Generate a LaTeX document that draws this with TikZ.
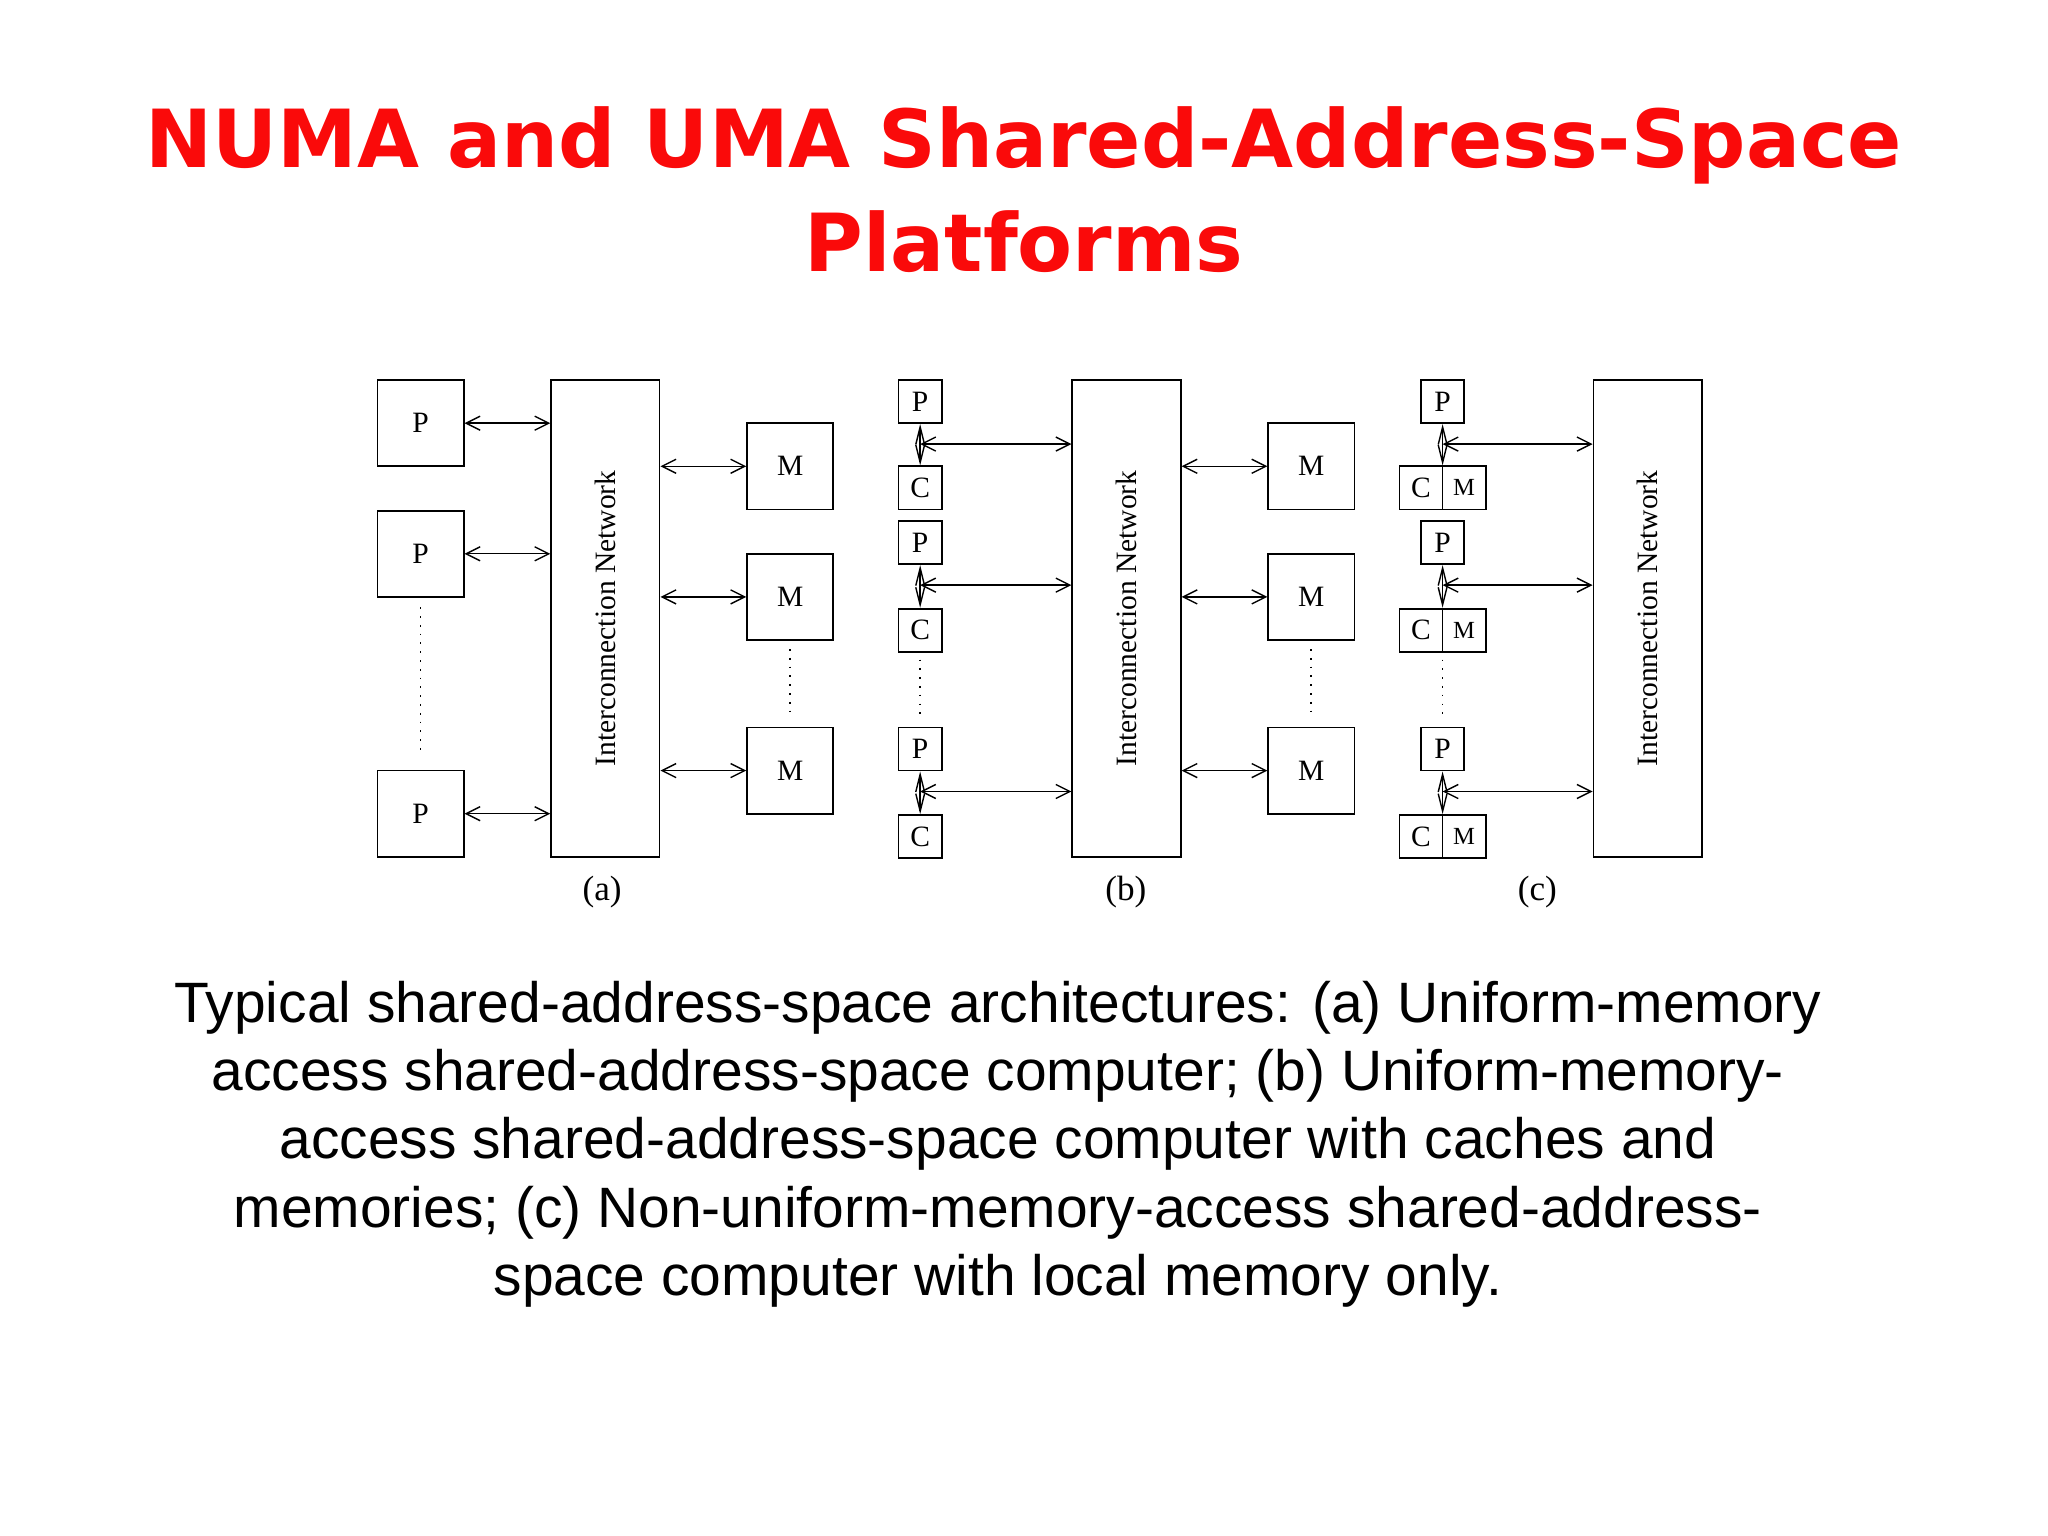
\documentclass[tikz,border=0pt]{standalone}
\usepackage{fontspec}
\setmainfont{Liberation Serif}
\newfontfamily\titlefont{DejaVu Sans}
\newfontfamily\capfont{Liberation Sans}
\usetikzlibrary{arrows.meta}
\definecolor{tred}{RGB}{250,10,10}
\begin{document}
\begin{tikzpicture}[x=0.013061cm,y=-0.013061cm,
  box/.style={draw,line width=0.5pt,inner sep=0pt,font=\fontsize{8.4}{10}\selectfont},
  big/.style={box,minimum width=0.862cm,minimum height=0.862cm},
  sm/.style={box,minimum width=0.431cm,minimum height=0.431cm},
  net/.style={box,minimum width=1.084cm,minimum height=4.767cm},
  arr/.style={line width=0.4pt,{Straight Barb[length=4pt,width=4pt]}-{Straight Barb[length=4pt,width=4pt]}},
  varr/.style={line width=0.4pt,{Straight Barb[length=5pt,width=2.5pt]}-{Straight Barb[length=5pt,width=2.5pt]}},
  dots/.style={line width=0.5pt,dotted},
  lab/.style={font=\fontsize{10}{12}\selectfont}]
\useasboundingbox (0,0) rectangle (1568,1176);
\node[font=\titlefont\bfseries\fontsize{22.8}{29.5}\selectfont,text=tred,align=center] (title) at (784,145) {NUMA and UMA Shared-Address-Space\\Platforms};
% (a)
\node[big] (aP1) at (322,324) {P};
\node[big] (aP2) at (322,424) {P};
\node[big] (aP3) at (322,623) {P};
\node[net] (aN) at (463.5,473.5) {};
\node[rotate=90,font=\fontsize{8.4}{10}\selectfont] (aNt) at (aN.center) {Interconnection Network};
\node[big] (aM1) at (605,357) {M};
\node[big] (aM2) at (605,457) {M};
\node[big] (aM3) at (605,590) {M};
\foreach \i in {1,2,3} {\draw[arr] (aP\i.east) -- (aP\i.east -| aN.west);
  \draw[arr] (aM\i.west -| aN.east) -- (aM\i.west);}
\coordinate (ad1) at (322,465); \coordinate (ad2) at (322,575);
\draw[dots] (ad1) -- (ad2);
\coordinate (ad3) at (605,497); \coordinate (ad4) at (605,548);
\draw[dots] (ad3) -- (ad4);
\node[lab] (la) at (461,683) {(a)};
% (b)
\foreach \i/\yp/\yc/\ya in {1/307.5/373.5/340,2/415.5/482.5/448,3/573.5/640.5/606} {
  \node[sm] (bP\i) at (704.5,\yp) {P};
  \node[sm] (bC\i) at (704.5,\yc) {C};
  \draw[varr] (bP\i.south) -- (bC\i.north);
  \coordinate (bJ\i) at (704.5,\ya);
}
\node[net] (bN) at (862.5,473.5) {};
\node[rotate=90,font=\fontsize{8.4}{10}\selectfont] (bNt) at (bN.center) {Interconnection Network};
\foreach \i in {1,2,3} \draw[arr] (bJ\i) -- (bJ\i -| bN.west);
\node[big] (bM1) at (1004,357) {M};
\node[big] (bM2) at (1004,457) {M};
\node[big] (bM3) at (1004,590) {M};
\foreach \i in {1,2,3} \draw[arr] (bM\i.west -| bN.east) -- (bM\i.west);
\coordinate (bd1) at (704.5,505); \coordinate (bd2) at (704.5,550);
\draw[dots] (bd1) -- (bd2);
\coordinate (bd3) at (1004,497); \coordinate (bd4) at (1004,548);
\draw[dots] (bd3) -- (bd4);
\node[lab] (lb) at (862,683) {(b)};
% (c)
\foreach \i/\yp/\yc/\ya in {1/307.5/373.5/340,2/415.5/482.5/448,3/573.5/640.5/606} {
  \node[sm] (cP\i) at (1104.5,\yp) {P};
  \node[sm] (cC\i) at (1088,\yc) {C};
  \node[sm,font=\fontsize{7}{9}\selectfont] (cM\i) at (1121,\yc) {M};
  \draw[varr] (cP\i.south) -- (cP\i.south |- cC\i.north);
  \coordinate (cJ\i) at (1104.5,\ya);
}
\node[net] (cN) at (1261.5,473.5) {};
\node[rotate=90,font=\fontsize{8.4}{10}\selectfont] (cNt) at (cN.center) {Interconnection Network};
\foreach \i in {1,2,3} \draw[arr] (cJ\i) -- (cJ\i -| cN.west);
\coordinate (cd1) at (1104.5,505); \coordinate (cd2) at (1104.5,550);
\draw[dots] (cd1) -- (cd2);
\node[lab] (lc) at (1177,683) {(c)};
% caption
\node[font=\capfont\fontsize{16.2}{19.4}\selectfont,align=center] (cap) at (764,876) {Typical shared-address-space architectures: (a) Uniform-memory\\access shared-address-space computer; (b) Uniform-memory-\\access shared-address-space computer with caches and\\memories; (c) Non-uniform-memory-access shared-address-\\space computer with local memory only.};
\end{tikzpicture}
\end{document}
